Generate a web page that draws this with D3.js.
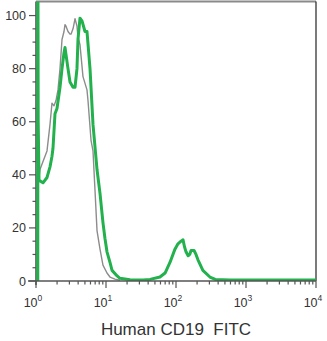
<!DOCTYPE html>
<html><head><meta charset="utf-8">
<script src="https://cdn.jsdelivr.net/npm/d3@7"></script>
<style>body{margin:0;background:#fff}svg{display:block}</style>
</head><body>
<svg id="c" width="327" height="341"></svg>
<script>
// FITC intensity (x) and % of max (y)
const isoX = [1.0, 1.068, 1.141, 1.259, 1.436, 1.585, 1.692, 1.807, 1.931, 2.062, 2.203, 2.352, 2.512, 2.596, 2.683, 2.865, 3.06, 3.16, 3.38, 3.61, 3.85, 3.98, 4.25, 4.69, 5.35, 5.53, 6.11, 6.52, 6.97, 7.44, 8.21, 9.05, 10.33, 11.4, 13.4, 15.8];
const isoY = [45, 36, 42, 45, 49, 59, 67, 66, 68, 72, 80, 91, 94, 96.6, 96, 94, 93, 93, 95, 98.8, 96, 92, 89, 77, 72, 68, 53, 49, 34, 19, 12, 6, 3, 1.5, 0.7, 0.3];

const cd19X = [1.06, 1.065, 1.075, 1.104, 1.259, 1.436, 1.585, 1.692, 1.749, 1.868, 1.995, 2.203, 2.352, 2.512, 2.596, 2.865, 3.06, 3.38, 3.61, 3.85, 3.98, 4.25, 4.54, 5.01, 5.35, 5.91, 6.52, 7.44, 8.21, 9.05, 9.67, 10.33, 11.4, 12.2, 14.3, 15.8, 22.0, 33.9, 42.6, 59.0, 69.8, 82.0, 96.6, 106.7, 118, 126, 132, 139, 149, 157, 164, 181, 193, 206, 242, 305, 364, 590, 1590, 5900, 10000];
const cd19Y = [0, 120, 60, 38, 37, 39, 43, 47, 50, 63, 65, 73, 80, 86, 88, 80, 75, 73, 73, 80, 91, 99, 98, 94, 94, 80, 59, 42, 33, 22, 16, 11, 7, 4, 2, 1, 0.5, 0.4, 0.6, 1.5, 3, 7, 12, 14, 15, 15.5, 13, 11, 9.5, 10, 11.5, 11.5, 10, 8, 4, 1.5, 0.6, 0.4, 0.4, 0.4, 0.4];

const xTicks = [1, 10, 100, 1000, 10000];
const xExp = ["0", "1", "2", "3", "4"];
const yTicks = [0, 20, 40, 60, 80, 100];
const xTitle = "Human CD19  FITC";

const svg = d3.select("#c");
const m = {l: 36, r: 316, t: 1.5, b: 281};
const x = d3.scaleLog().domain([1, 10000]).range([m.l, m.r]);
const y = d3.scaleLinear().domain([0, 105.3]).range([m.b, m.t]);

svg.append("defs").append("clipPath").attr("id", "clip")
  .append("rect").attr("x", m.l).attr("y", m.t).attr("width", m.r - m.l).attr("height", m.b - m.t);

// frame: top gray, right dark
svg.append("line").attr("x1", m.l).attr("x2", m.r).attr("y1", m.t).attr("y2", m.t)
  .attr("stroke", "#8a8a8a").attr("stroke-width", 2);
svg.append("line").attr("x1", m.r).attr("x2", m.r).attr("y1", m.t).attr("y2", m.b)
  .attr("stroke", "#222").attr("stroke-width", 1.2);

// y axis
const yMinor = d3.range(0, 101, 5).filter((v) => v % 20 !== 0);
const yax = svg.append("g").attr("transform", `translate(${m.l},0)`);
yax.append("line").attr("y1", m.t).attr("y2", m.b + 4).attr("stroke", "#777").attr("stroke-width", 2);
yax.selectAll(".mj").data(yTicks).join("line").attr("x1", -7).attr("x2", 0)
  .attr("y1", (d) => y(d)).attr("y2", (d) => y(d)).attr("stroke", "#555").attr("stroke-width", 1.2);
yax.selectAll(".mn").data(yMinor).join("line").attr("x1", -3.5).attr("x2", 0)
  .attr("y1", (d) => y(d)).attr("y2", (d) => y(d)).attr("stroke", "#555").attr("stroke-width", 1.2);
yax.selectAll("text").data(yTicks).join("text").attr("x", -10).attr("y", (d) => y(d) + 4.5)
  .attr("text-anchor", "end").attr("font-family", "Liberation Sans, Arial, sans-serif")
  .attr("font-size", 12.5).attr("fill", "#333").text((d) => d);

// curves
const line = d3.line().x((d) => x(d[0])).y((d) => y(d[1])).curve(d3.curveLinear);
const g = svg.append("g").attr("clip-path", "url(#clip)");
g.append("path").datum(isoX.map((v, i) => [v, isoY[i]]))
  .attr("d", line).attr("fill", "none").attr("stroke", "#8c8c8c").attr("stroke-width", 1.4)
  .attr("stroke-linejoin", "round");
g.append("path").datum(cd19X.map((v, i) => [v, cd19Y[i]]))
  .attr("d", line).attr("fill", "none").attr("stroke", "#22b14c").attr("stroke-width", 3)
  .attr("stroke-linejoin", "round");

// x axis
const xMinor = [];
for (let e = 0; e < 4; e++) for (let k = 2; k <= 9; k++) xMinor.push(k * Math.pow(10, e));
const xax = svg.append("g").attr("transform", `translate(0,${m.b})`);
xax.append("line").attr("x1", m.l - 8).attr("x2", m.r).attr("stroke", "#555").attr("stroke-width", 1.5);
xax.selectAll(".mj").data(xTicks).join("line").attr("x1", (d) => x(d)).attr("x2", (d) => x(d))
  .attr("y1", 0).attr("y2", 7).attr("stroke", "#555").attr("stroke-width", 1.2);
xax.selectAll(".mn").data(xMinor).join("line").attr("x1", (d) => x(d)).attr("x2", (d) => x(d))
  .attr("y1", 0).attr("y2", 3.5).attr("stroke", "#555").attr("stroke-width", 1.2);
const lab = xax.selectAll("text").data(xTicks).join("text")
  .attr("x", (d) => x(d) - 3).attr("y", 26).attr("text-anchor", "middle")
  .attr("font-family", "Liberation Sans, Arial, sans-serif").attr("font-size", 12.5).attr("fill", "#333");
lab.append("tspan").text("10");
lab.append("tspan").attr("dy", -6).attr("font-size", 8.5).text((d, i) => xExp[i]);

svg.append("text").attr("x", (m.l + m.r) / 2).attr("y", 335).attr("text-anchor", "middle")
  .attr("font-family", "Liberation Sans, Arial, sans-serif").attr("font-size", 17).attr("fill", "#333")
  .style("white-space", "pre").text(xTitle);
</script>
</body></html>
